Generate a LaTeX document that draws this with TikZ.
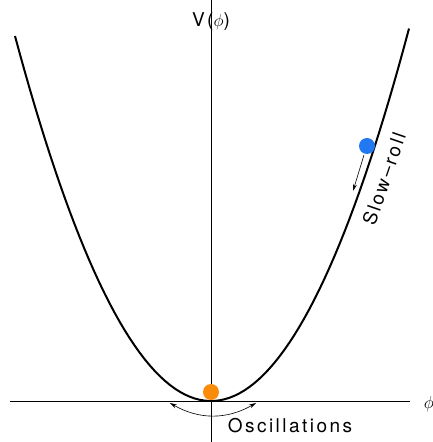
\documentclass[tikz,border=0pt]{standalone}
\usepackage{fontspec}
\setmainfont{TeX Gyre Heros}
\usepackage{amsmath}
\usetikzlibrary{arrows.meta}

\begin{document}
\begin{tikzpicture}[x=1pt, y=1pt, ball/.style = {circle, inner sep=0pt, minimum size=16pt},
        lbl/.style = {font=\fontsize{19}{22}\selectfont\addfontfeatures{LetterSpace=13}, inner sep=0pt}]
            \useasboundingbox (-211,-41) rectangle (222,401);

            % axes
            \coordinate (xl) at (-201,0);
            \coordinate (xr) at (199,0);
            \coordinate (yb) at (0,-41);
            \coordinate (yt) at (0,411);
            \draw[line width=0.9pt] (xl) -- (xr);
            \draw[line width=0.9pt] (yb) -- (yt);
            \node[lbl, anchor=base] (V) at (0,374) {V($\phi$)};
            \node[lbl] (phi) at (218,-3) {$\phi$};

            % potential
            \draw[line width=2pt, domain=-196:198, samples=80] plot (\x, {0.95*(\x/10)*(\x/10)});

            % balls
            \node[ball, fill={rgb,255:red,33;green,120;blue,240}] (top) at (156,255) {};
            \node[ball, fill={rgb,255:red,250;green,140;blue,10}] (bottom) at (0,9) {};

            % slow-roll
            \coordinate (sr1) at (153,246);
            \coordinate (sr2) at (142,210);
            \draw[-{Stealth[length=7pt,width=4pt]}, line width=0.6pt] (sr1) -- (sr2);
            \node[lbl, rotate=71] (slow) at (173,222) {Slow--roll};

            % oscillations
            \coordinate (ol) at (-41,-2);
            \coordinate (or) at (45,-2);
            \draw[{Stealth[length=7pt,width=4pt]}-{Stealth[length=7pt,width=4pt]}, line width=0.6pt] (ol) to[bend right=30] (or);
            \node[lbl, anchor=base] (osc) at (79,-31) {Oscillations};
        \end{tikzpicture}
\end{document}
